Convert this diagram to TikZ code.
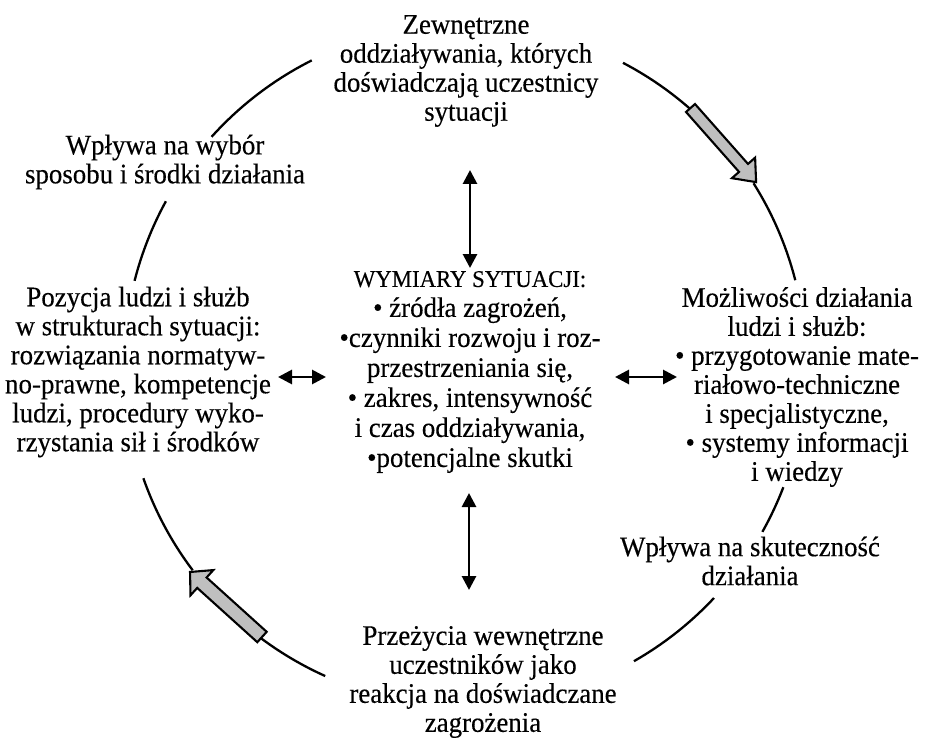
\documentclass[tikz,border=0pt]{standalone}
\usepackage{fontspec}
\setmainfont[FakeStretch=0.95,FakeBold=0.3]{Liberation Serif}
\usetikzlibrary{arrows.meta}
\begin{document}
\begin{tikzpicture}[x=1pt,y=1pt,
  lbl/.style={align=center,inner sep=0pt,font=\fontsize{28.3}{29}\selectfont},
  ring/.style={line width=2.3pt},
  dbl/.style={line width=2.8pt,{Triangle[length=14pt,width=14pt]}-{Triangle[length=14pt,width=14pt]}},
  blockarrow/.style={fill=black!25,draw=black,line width=2.1pt,line join=miter}]
\useasboundingbox (0,0) rectangle (944,-738);
\coordinate (c) at (465,-365);

% text blocks
\node[lbl] (top) at (466,-71) {Zewnętrzne\\oddziaływania, których\\doświadczają uczestnicy\\sytuacji};
\node[lbl] (choice) at (165,-162) {Wpływa na wybór\\sposobu i środki działania};
\node[lbl] (left) at (138,-372) {Pozycja ludzi i służb\\w strukturach sytuacji:\\rozwiązania normatyw-\\no-prawne, kompetencje\\ludzi, procedury wyko-\\rzystania sił i środków};
\node[lbl,font=\fontsize{28.3}{30}\selectfont] (dims) at (470,-372) {{\fontsize{24}{30}\selectfont WYMIARY SYTUACJI:}\\• źródła zagrożeń,\\•czynniki rozwoju i roz-\\przestrzeniania się,\\• zakres, intensywność\\i czas oddziaływania,\\•potencjalne skutki};
\node[lbl] (right) at (797,-387) {Możliwości działania\\ludzi i służb:\\• przygotowanie mate-\\riałowo-techniczne\\i specjalistyczne,\\• systemy informacji\\i wiedzy};
\node[lbl] (effect) at (750,-561) {Wpływa na skuteczność\\działania};
\node[lbl] (bottom) at (483,-682) {Przeżycia wewnętrzne\\uczestników jako\\reakcja na doświadczane\\zagrożenia};

% pieces of the ring between the texts
\draw[ring] ([shift={(116.7:341)}]c) arc[start angle=116.7,end angle=138,radius=341];
\draw[ring] ([shift={(151.3:341)}]c) arc[start angle=151.3,end angle=165.7,radius=341];
\draw[ring] ([shift={(199.4:341)}]c) arc[start angle=199.4,end angle=217,radius=341];
\draw[ring] ([shift={(233.3:341)}]c) arc[start angle=233.3,end angle=245.8,radius=341];
\draw[ring] ([shift={(299.7:341)}]c) arc[start angle=299.7,end angle=316.9,radius=341];
\draw[ring] ([shift={(330.7:341)}]c) arc[start angle=330.7,end angle=339,radius=341];
\draw[ring] ([shift={(14.4:341)}]c) arc[start angle=14.4,end angle=32.2,radius=341];
\draw[ring] ([shift={(48.8:341)}]c) arc[start angle=48.8,end angle=62.4,radius=341];

% grey block arrows on the ring
\coordinate (a1) at (690.5,-108);
\begin{scope}[shift={(a1)},rotate=-48.5]
  \draw[blockarrow] (0,-6) -- (80,-6) -- (80,-15.5) -- (99,0) -- (80,15.5) -- (80,6) -- (0,6) -- cycle;
\end{scope}
\coordinate (a2) at (262,-637);
\begin{scope}[shift={(a2)},rotate=137.9]
  \draw[blockarrow] (0,-7) -- (81,-7) -- (81,-17) -- (97,0) -- (81,17) -- (81,7) -- (0,7) -- cycle;
\end{scope}

% two-way arrows around the central block
\coordinate (vt1) at (470,-170);
\coordinate (vt2) at (470,-268);
\coordinate (vb1) at (469,-493);
\coordinate (vb2) at (469,-590);
\coordinate (hl1) at (278,-377);
\coordinate (hl2) at (326,-377);
\coordinate (hr1) at (615,-377);
\coordinate (hr2) at (677,-377);
\draw[dbl] (vt1) -- (vt2);
\draw[dbl] (vb1) -- (vb2);
\draw[dbl] (hl1) -- (hl2);
\draw[dbl] (hr1) -- (hr2);
\end{tikzpicture}
\end{document}
